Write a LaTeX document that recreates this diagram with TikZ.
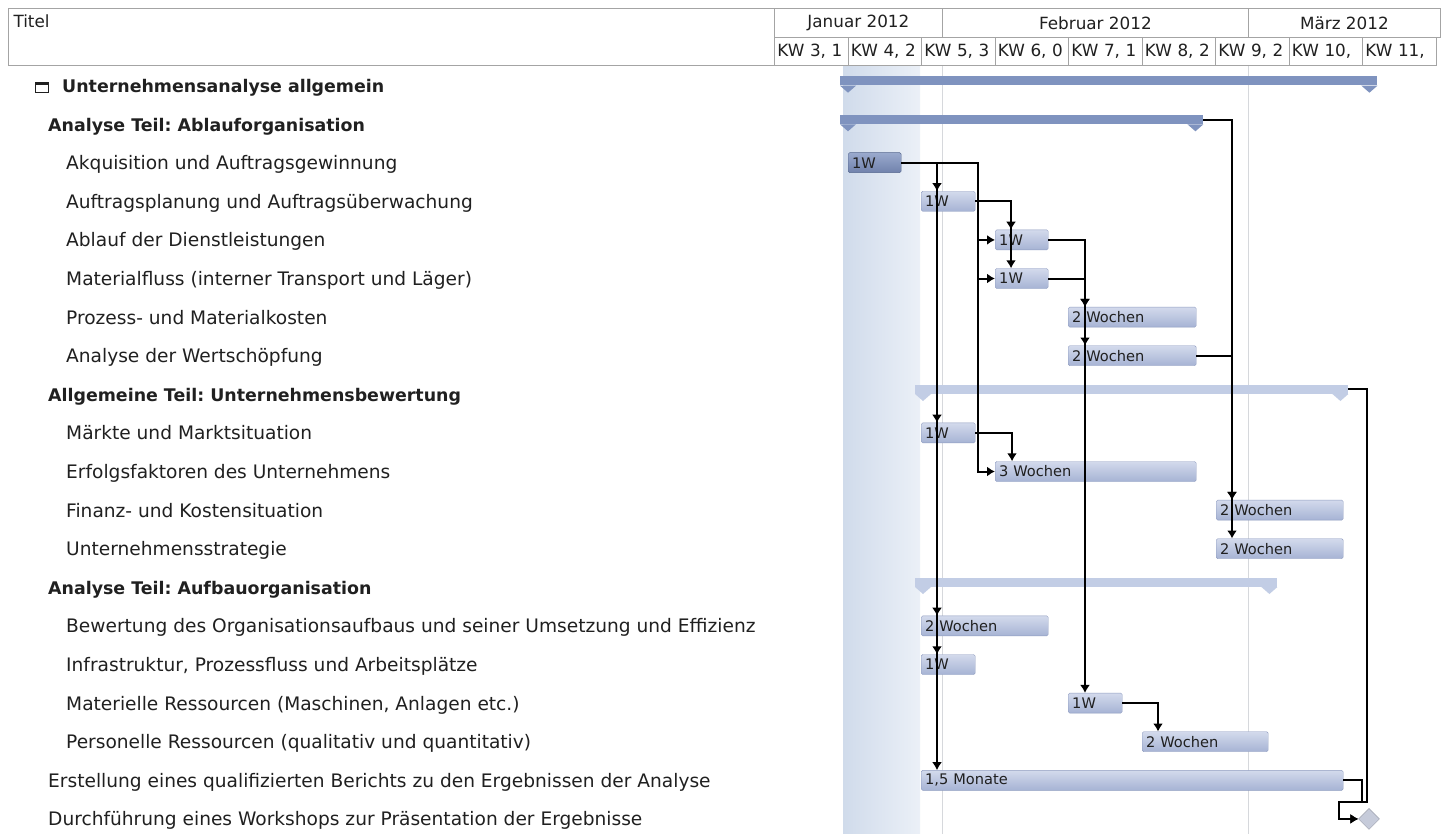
\documentclass[tikz,border=0pt]{standalone}
\usepackage{fontspec}
\setmainfont{DejaVu Sans}
\usetikzlibrary{arrows.meta,shapes.geometric}
\frenchspacing
\definecolor{textc}{HTML}{202020}
\definecolor{hdrline}{HTML}{A4A4A4}
\definecolor{gridc}{HTML}{D6D8DC}
\definecolor{bandL}{HTML}{D0DBEB}
\definecolor{bandR}{HTML}{EBF0F7}
\definecolor{bartop}{HTML}{D3DAEC}
\definecolor{barbot}{HTML}{A6B3D4}
\definecolor{barline}{HTML}{8F9CC0}
\definecolor{seltop}{HTML}{9AAACD}
\definecolor{selbot}{HTML}{7082AC}
\definecolor{selline}{HTML}{56688F}
\definecolor{sumdark}{HTML}{7F93BF}
\definecolor{sumlight}{HTML}{C2CDE5}
\definecolor{msfill}{HTML}{C6CBDA}
\tikzset{
  task/.style={anchor=base west, inner sep=0pt,
    font=\fontsize{18.6}{20}\selectfont, text=textc},
  group/.style={task, font=\fontsize{17.4}{20}\selectfont\bfseries},
  hdr/.style={draw=hdrline, line width=0.8pt, anchor=north west, inner sep=0pt,
    font=\fontsize{16.8}{18}\selectfont, text=textc},
  kwcell/.style={hdr, minimum height=28pt, text width=67.5pt, inner xsep=3pt, align=left},
  bar/.style={anchor=west, draw=barline, rounded corners=1.5pt, top color=bartop,
    bottom color=barbot, minimum height=20pt, inner xsep=4pt, inner ysep=0pt,
    align=left, font=\fontsize{14.6}{15}\selectfont, text=textc},
  selbar/.style={bar, draw=selline, top color=seltop, bottom color=selbot},
  sumbar/.style={anchor=west, minimum height=9pt, inner sep=0pt},
  link/.style={draw=black, line width=2pt, -{Latex[length=8pt,width=10pt]}},
}
\begin{document}
\begin{tikzpicture}[x=1pt,y=-1pt]
\useasboundingbox (0,0) rectangle (1450,834);
\fill[white] (0,0) rectangle (1450,834);
% today band and month lines
\fill[left color=bandL, right color=bandR] (843,66) rectangle (920,834);
\draw[gridc, line width=1pt] (942,65) -- (942,834);
\draw[gridc, line width=1pt] (1248,65) -- (1248,834);

% header
\draw[hdrline, line width=0.8pt] (8,8) rectangle (774,65);
\node[anchor=west, font=\fontsize{16.8}{18}\selectfont, text=textc] (titel) at (10,21) {Titel};
\node[hdr, minimum width=168pt, minimum height=29pt] (jan) at (774,8) {Januar 2012};
\node[hdr, minimum width=306pt, minimum height=29pt] (feb) at (942,8) {Februar 2012};
\node[hdr, minimum width=192pt, minimum height=29pt] (mar) at (1248,8) {März 2012};
\foreach \kw [count=\i from 0] in {{KW 3, 1},{KW 4, 2},{KW 5, 3},{KW 6, 0},{KW 7, 1},{KW 8, 2},{KW 9, 2},{KW 10,},{KW 11,}}
  \node[kwcell] (kw\i) at (774+73.5*\i,37) {\kw};

% row titles
\draw[textc, line width=0.9pt] (35,83) rectangle (48,92);
\fill[textc] (34.5,82) rectangle (48.5,85);
\node[group] (lall) at (62,92.5) {Unternehmensanalyse allgemein};
\node[group] (labl) at (48,131.1) {Analyse Teil: Ablauforganisation};
\node[task] (lakq) at (66,169.7) {Akquisition und Auftragsgewinnung};
\node[task] (laufpl) at (66,208.3) {Auftragsplanung und Auftragsüberwachung};
\node[task] (lablauf) at (66,246.9) {Ablauf der Dienstleistungen};
\node[task] (lmatfl) at (66,285.5) {Materialfluss (interner Transport und Läger)};
\node[task] (lproz) at (66,324.1) {Prozess- und Materialkosten};
\node[task] (lwert) at (66,362.7) {Analyse der Wertschöpfung};
\node[group] (lallg) at (48,401.3) {Allgemeine Teil: Unternehmensbewertung};
\node[task] (lmaerkte) at (66,439.9) {Märkte und Marktsituation};
\node[task] (lerfolg) at (66,478.5) {Erfolgsfaktoren des Unternehmens};
\node[task] (lfinanz) at (66,517.1) {Finanz- und Kostensituation};
\node[task] (lstrat) at (66,555.7) {Unternehmensstrategie};
\node[group] (lauf) at (48,594.3) {Analyse Teil: Aufbauorganisation};
\node[task] (lbewert) at (66,632.9) {Bewertung des Organisationsaufbaus und seiner Umsetzung und Effizienz};
\node[task] (linfra) at (66,671.5) {Infrastruktur, Prozessfluss und Arbeitsplätze};
\node[task] (lmatres) at (66,710.1) {Materielle Ressourcen (Maschinen, Anlagen etc.)};
\node[task] (lpersres) at (66,748.7) {Personelle Ressourcen (qualitativ und quantitativ)};
\node[task] (lbericht) at (48,787.3) {Erstellung eines qualifizierten Berichts zu den Ergebnissen der Analyse};
\node[task] (lworkshop) at (48,825.9) {Durchführung eines Workshops zur Präsentation der Ergebnisse};

% summary bars
\node[sumbar, fill=sumdark, minimum width=537pt] (sumall) at (840,81) {};
\node[sumbar, fill=sumdark, minimum width=363pt] (sumabl) at (840,119.6) {};
\node[sumbar, fill=sumlight, minimum width=433pt] (sumallg) at (915,389.3) {};
\node[sumbar, fill=sumlight, minimum width=362pt] (sumauf) at (915,582.3) {};
\fill[sumdark] (sumall.south west) -- ++(16,0) -- ++(-8,7) -- cycle;
\fill[sumdark] (sumall.south east) -- ++(-16,0) -- ++(8,7) -- cycle;
\fill[sumdark] (sumabl.south west) -- ++(16,0) -- ++(-8,7) -- cycle;
\fill[sumdark] (sumabl.south east) -- ++(-16,0) -- ++(8,7) -- cycle;
\fill[sumlight] (sumallg.south west) -- ++(16,0) -- ++(-8,7) -- cycle;
\fill[sumlight] (sumallg.south east) -- ++(-16,0) -- ++(8,7) -- cycle;
\fill[sumlight] (sumauf.south west) -- ++(16,0) -- ++(-8,7) -- cycle;
\fill[sumlight] (sumauf.south east) -- ++(-16,0) -- ++(8,7) -- cycle;

% task bars
\node[selbar, text width=45pt] (akq) at (848,162.7) {1W};
\node[bar, text width=46pt] (aufpl) at (921,201.3) {1W};
\node[bar, text width=45pt] (ablauf) at (995,239.9) {1W};
\node[bar, text width=45pt] (matfl) at (995,278.5) {1W};
\node[bar, text width=120pt] (proz) at (1068,317.1) {2 Wochen};
\node[bar, text width=120pt] (wert) at (1068,355.7) {2 Wochen};
\node[bar, text width=46pt] (maerkte) at (921,432.9) {1W};
\node[bar, text width=193pt] (erfolg) at (995,471.5) {3 Wochen};
\node[bar, text width=119pt] (finanz) at (1216,510.1) {2 Wochen};
\node[bar, text width=119pt] (strat) at (1216,548.7) {2 Wochen};
\node[bar, text width=119pt] (bewert) at (921,625.9) {2 Wochen};
\node[bar, text width=46pt] (infra) at (921,664.5) {1W};
\node[bar, text width=46pt] (matres) at (1068,703.1) {1W};
\node[bar, text width=118pt] (persres) at (1142,741.7) {2 Wochen};
\node[bar, text width=414pt] (bericht) at (921,780.3) {1,5 Monate};
\node[diamond, fill=msfill, draw=msfill!80!black, minimum size=21pt, inner sep=0pt] (workshop) at (1369,818.9) {};
\coordinate (wsjoin) at (1339,802);
\coordinate (wsturn) at (1367,802);

% links
\draw[link] (akq.east) -| ([xshift=16pt]aufpl.north west);
\draw[link] (akq.east) -| ([xshift=16pt]maerkte.north west);
\draw[link] (akq.east) -| ([xshift=16pt]bewert.north west);
\draw[link] (akq.east) -| ([xshift=16pt]infra.north west);
\draw[link] (akq.east) -| ([xshift=16pt]bericht.north west);
\draw[link] (akq.east) -| ([xshift=-17pt]ablauf.west) -- (ablauf.west);
\draw[link] (akq.east) -| ([xshift=-17pt]matfl.west) -- (matfl.west);
\draw[link] (akq.east) -| ([xshift=-17pt]erfolg.west) -- (erfolg.west);
\draw[link] (aufpl.east) -| ([xshift=16pt]ablauf.north west);
\draw[link] (aufpl.east) -| ([xshift=16pt]matfl.north west);
\draw[link] (ablauf.east) -| ([xshift=17pt]proz.north west);
\draw[link] (ablauf.east) -| ([xshift=17pt]wert.north west);
\draw[link] (ablauf.east) -| ([xshift=17pt]matres.north west);
\draw[link] (matfl.east) -| ([xshift=17pt]proz.north west);
\draw[link] (maerkte.east) -| ([xshift=17pt]erfolg.north west);
\draw[link] (sumabl.east) -| ([xshift=16pt]finanz.north west);
\draw[link] (sumabl.east) -| ([xshift=16pt]strat.north west);
\draw[link] (wert.east) -| ([xshift=16pt]finanz.north west);
\draw[link] (matres.east) -| ([xshift=16pt]persres.north west);
\draw[link] (bericht.east) -- ++(19,0) |- (wsjoin) |- (workshop.west);
\draw[link] (sumallg.east) -| (wsturn) -- (wsjoin) |- (workshop.west);
\end{tikzpicture}
\end{document}
